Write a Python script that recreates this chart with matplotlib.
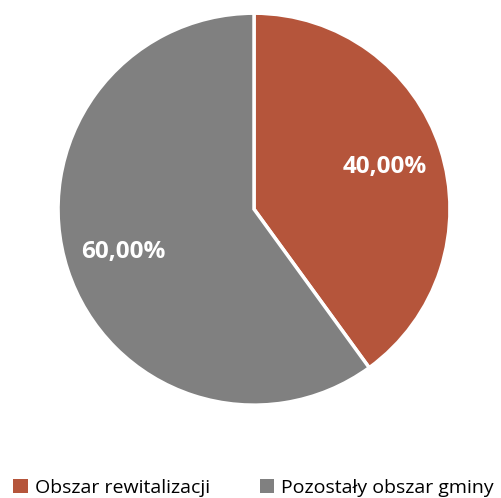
import matplotlib
matplotlib.use("Agg")
import matplotlib.pyplot as plt

categories = ["Obszar rewitalizacji", "Pozostały obszar gminy"]
values = [40.0, 60.0]
colors = ["#B5553B", "#808080"]

fig = plt.figure(figsize=(5.02, 4.98), dpi=100)
w, h = 0.781, 0.787
ax = fig.add_axes([0.506 - w / 2, 0.580 - h / 2, w, h])
wedges, texts, autotexts = ax.pie(
    values, colors=colors, startangle=90, counterclock=False,
    autopct=lambda p: f"{p:.2f}%".replace(".", ","), pctdistance=0.70,
    wedgeprops=dict(edgecolor="white", linewidth=2.5),
    textprops=dict(color="white", fontsize=17.5, fontweight="bold", family="Open Sans"),
)
ax.set_xlim(-1, 1)
ax.set_ylim(-1, 1)
ax.set_aspect("equal")
ax.axis("off")

leg = fig.legend(wedges, categories, loc="center", bbox_to_anchor=(0.505, 0.02),
                 ncol=2, frameon=False, handlelength=0.75, handleheight=0.75,
                 handletextpad=0.35, columnspacing=2.55,
                 prop=dict(family="Open Sans", size=14))
for hd in leg.legend_handles:
    hd.set_edgecolor("none")
fig.savefig("out.png", dpi=100)
